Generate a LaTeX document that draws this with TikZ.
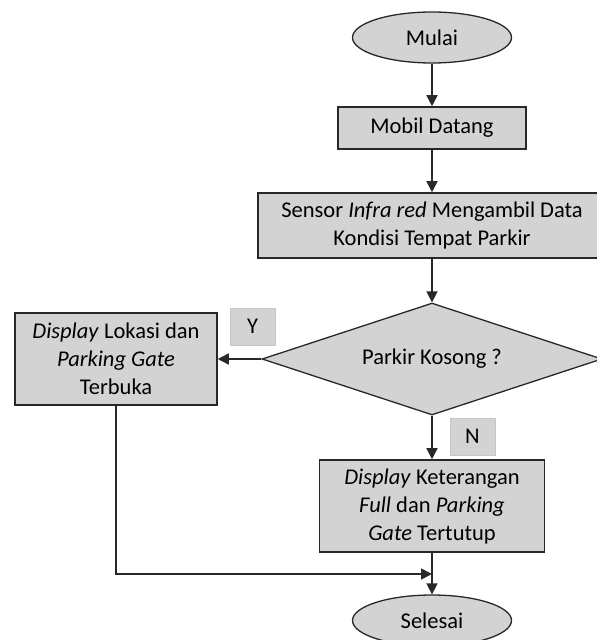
\documentclass[tikz,border=0pt]{standalone}
\usepackage{fontspec}
\setmainfont{Carlito}
\usetikzlibrary{shapes.geometric,arrows.meta}
\definecolor{boxfill}{RGB}{211,211,211}
\definecolor{edgecol}{RGB}{40,40,40}
\begin{document}
\begin{tikzpicture}[x=1pt,y=-1pt,
  font=\fontsize{22.5}{28}\selectfont,
  proc/.style={draw=edgecol,fill=boxfill,line width=1.6pt,rectangle,inner sep=0pt,align=center},
  term/.style={draw=edgecol,fill=boxfill,line width=1.3pt,ellipse,inner sep=0pt,minimum width=159pt,minimum height=51pt},
  decision/.style={draw=edgecol,fill=boxfill,line width=1.3pt,diamond,aspect=3.04,inner sep=0pt,minimum width=340pt,minimum height=112pt},
  lab/.style={fill=boxfill,draw=gray!45,line width=0.6pt,inner sep=0pt,minimum width=45pt,minimum height=37pt},
  arr/.style={draw=edgecol,line width=1.6pt,-{Triangle[width=11pt,length=11pt]}}]
\useasboundingbox (0,0) rectangle (597,640);
\node[term] (mulai) at (432,37.5) {Mulai};
\node[proc,minimum width=188pt,minimum height=42pt] (mobil) at (432,128) {Mobil Datang};
\node[proc,minimum width=348pt,minimum height=65pt] (sensor) at (432,225.5) {Sensor \textit{Infra red} Mengambil Data\\Kondisi Tempat Parkir};
\node[decision] (dec) at (432,359) {Parkir Kosong ?};
\node[proc,minimum width=202pt,minimum height=92pt] (yesbox) at (116,359) {\textit{Display} Lokasi dan\\\textit{Parking Gate}\\Terbuka};
\node[proc,minimum width=225pt,minimum height=92pt] (nobox) at (432,506) {\textit{Display} Keterangan\\\textit{Full} dan \textit{Parking}\\\textit{Gate} Tertutup};
\node[term] (selesai) at (432,620.5) {Selesai};
\node[lab] (ylab) at (252.5,326.5) {Y};
\node[lab] (nlab) at (472.5,436.5) {N};
\coordinate (merge) at (432,574);
\draw[arr] (mulai) -- (mobil);
\draw[arr] (mobil) -- (sensor);
\draw[arr] (sensor) -- (dec);
\draw[arr] (dec.west) -- (yesbox.east);
\draw[arr] (dec.south) -- (nobox.north);
\draw[arr] (nobox.south) -- (selesai.north);
\draw[arr] (yesbox.south) |- (merge);
\end{tikzpicture}
\end{document}
